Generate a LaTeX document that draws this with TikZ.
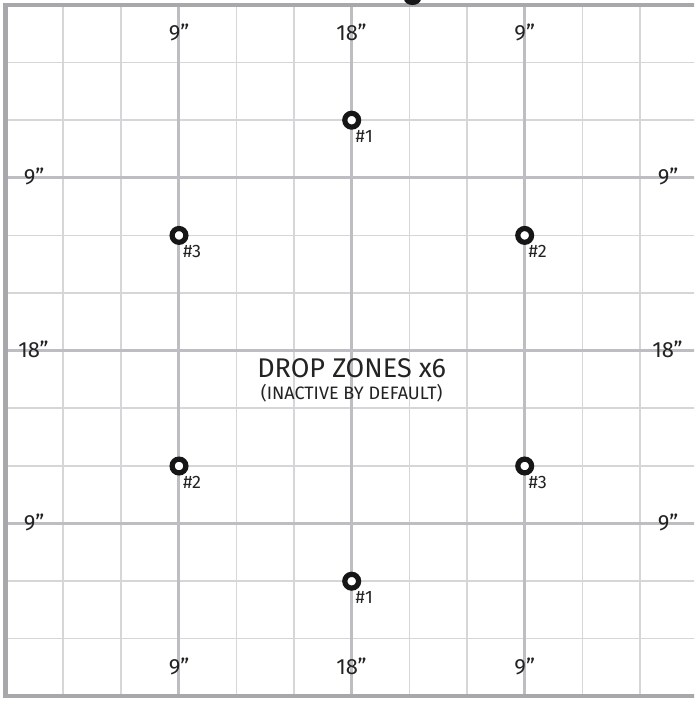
\documentclass[tikz,border=0pt]{standalone}
\usepackage{fontspec}
\setmainfont{Fira Sans}
\definecolor{gridthin}{RGB}{214,214,216}
\definecolor{gridthick}{RGB}{190,190,194}
\definecolor{framegray}{RGB}{168,168,172}
\definecolor{ink}{RGB}{35,35,35}
\definecolor{ringblack}{RGB}{22,22,22}
\begin{document}
\begin{tikzpicture}[x=1pt,y=-1pt,
  thinline/.style={gridthin, line width=1.5pt},
  thickline/.style={gridthick, line width=2.8pt},
  framestyle/.style={framegray, line width=4.5pt},
  dropzone/.style={circle, draw=ringblack, fill=white, line width=5.2pt, minimum size=13.8pt, inner sep=0pt},
  zonelabel/.style={anchor=west, text=ink, font=\fontsize{18}{18}\selectfont, inner sep=0pt},
  dimlabel/.style={text=ink, font=\fontsize{22}{22}\selectfont, inner sep=0pt}]
\useasboundingbox (0,0) rectangle (694,702);
\begin{scope}
\clip (0,0) rectangle (694,702);
\fill[white] (0,0) rectangle (694,702);
\foreach \i in {1,2,4,5,7,8,10,11}
  \draw[thinline] ({5.5+57.7*\i},5) -- ({5.5+57.7*\i},696);
\foreach \j in {1,2,4,5,7,8,10,11}
  \draw[thinline] (5.5,{5+57.6*\j}) -- (700,{5+57.6*\j});
\foreach \i in {3,6,9}
  \draw[thickline] ({5.5+57.7*\i},5) -- ({5.5+57.7*\i},696);
\foreach \j in {3,6,9}
  \draw[thickline] (5.5,{5+57.6*\j}) -- (700,{5+57.6*\j});
\draw[framestyle] (702,5) -- (5.5,5) -- (5.5,696) -- (702,696);
\fill[ringblack] (412.5,-1) ellipse (8.5 and 6);
\end{scope}
% dimension labels
\node[dimlabel] (t1) at (179,32) {9”};
\node[dimlabel] (t2) at (351.5,32) {18”};
\node[dimlabel] (t3) at (524.7,32) {9”};
\node[dimlabel] (b1) at (179,666.5) {9”};
\node[dimlabel] (b2) at (351.5,666.5) {18”};
\node[dimlabel] (b3) at (524.7,666.5) {9”};
\node[dimlabel] (l1) at (34,176.5) {9”};
\node[dimlabel] (l2) at (33.5,349) {18”};
\node[dimlabel] (l3) at (34,522) {9”};
\node[dimlabel] (r1) at (668,176.5) {9”};
\node[dimlabel] (r2) at (667.5,349) {18”};
\node[dimlabel] (r3) at (668,522) {9”};
% drop zones
\node[dropzone] (z1t) at (351.7,120.2) {};
\node[dropzone] (z3t) at (179,235.4) {};
\node[dropzone] (z2t) at (524.7,235.4) {};
\node[dropzone] (z2b) at (179,466) {};
\node[dropzone] (z3b) at (524.7,466) {};
\node[dropzone] (z1b) at (351.7,581.2) {};
\node[zonelabel] (lz1t) at (355.5,136.2) {\#1};
\node[zonelabel] (lz3t) at (182.8,251.4) {\#3};
\node[zonelabel] (lz2t) at (528.5,251.4) {\#2};
\node[zonelabel] (lz2b) at (182.8,482) {\#2};
\node[zonelabel] (lz3b) at (528.5,482) {\#3};
\node[zonelabel] (lz1b) at (355.5,597.2) {\#1};
% center title
\node[text=ink, font=\fontsize{27}{27}\selectfont, inner sep=0pt] (title) at (351.7,368) {DROP ZONES x6};
\node[text=ink, font=\fontsize{18}{18}\selectfont, inner sep=0pt] (sub) at (351.7,393) {(INACTIVE BY DEFAULT)};
\end{tikzpicture}
\end{document}
